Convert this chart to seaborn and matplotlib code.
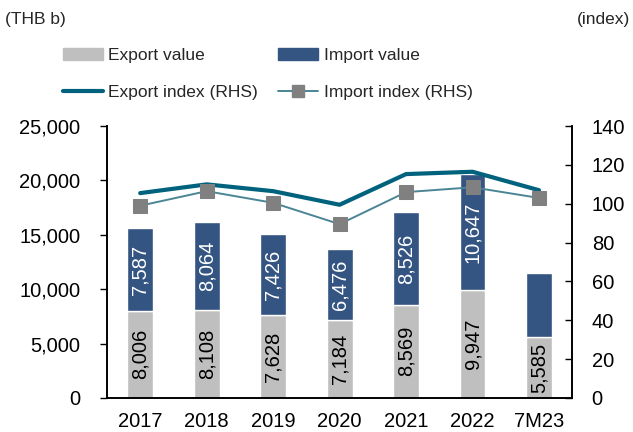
import numpy as np
import pandas as pd
import matplotlib.pyplot as plt
import seaborn as sns
from matplotlib.patches import Patch
from matplotlib.lines import Line2D

# --- Data ---
years = ['2017', '2018', '2019', '2020', '2021', '2022', '7M23']
export_value = [8006, 8108, 7628, 7184, 8569, 9947, 5585]
import_value = [7587, 8064, 7426, 6476, 8526, 10647, 5875]
import_labels = ['7,587', '8,064', '7,426', '6,476', '8,526', '10,647', '']
export_labels = ['8,006', '8,108', '7,628', '7,184', '8,569', '9,947', '5,585']
export_index = [105.5, 110, 106.5, 99.5, 115.3, 116.5, 107]
import_index = [99, 106.5, 100.5, 89.5, 106, 108.5, 103]

# --- Style ---
sns.set_style("white")
plt.rcParams['font.family'] = ['Liberation Sans', 'DejaVu Sans']
plt.rcParams['font.size'] = 14.5
small = 12.5

c_exp = '#BFBFBF'
c_imp = '#345482'
c_exp_line = '#00627D'
c_imp_line = '#4A8596'

df = pd.DataFrame({'year': years, 'export': export_value, 'import': import_value})
x = np.arange(len(years))

fig = plt.figure(figsize=(6.33, 4.32), dpi=100)
ax = fig.add_axes([0.169, 0.079, 0.735, 0.629])

# stacked bars
sns.barplot(data=df, x='year', y='export', color=c_exp, width=0.39,
            saturation=1, ax=ax)
sns.barplot(data=df, x='year', y='import', bottom=df['export'], color=c_imp,
            width=0.39, saturation=1, ax=ax)

for i in range(len(years)):
    ax.text(x[i], export_value[i] / 2, export_labels[i], rotation=90,
            ha='center', va='center', color='black', fontsize=14.5)
    if import_labels[i]:
        ax.text(x[i], export_value[i] + import_value[i] / 2, import_labels[i],
                rotation=90, ha='center', va='center', color='white', fontsize=14.5)

ax.set_ylim(0, 25000)
ax.set_yticks(range(0, 25001, 5000))
ax.set_yticklabels([f'{v:,}' for v in range(0, 25001, 5000)])
ax.set_xlim(-0.5, len(years) - 0.5)
ax.set_xlabel('')
ax.set_ylabel('')
ax.set_xticks(x)
ax.set_xticklabels(years)
ax.set_xticks(np.arange(-0.5, len(years), 1), minor=True)
ax.tick_params(axis='x', which='major', length=0, pad=10)
ax.tick_params(axis='x', which='minor', length=5, direction='out', width=1)
ax.tick_params(axis='y', length=5, direction='out', width=1, pad=14)

# right axis
ax2 = ax.twinx()
sns.lineplot(x=x, y=export_index, color=c_exp_line, linewidth=3.0, ax=ax2)
sns.lineplot(x=x, y=import_index, color=c_imp_line, linewidth=1.4, marker='s',
             markersize=10.5, markerfacecolor='#808080', markeredgecolor='#808080', ax=ax2)
ax2.set_ylim(0, 140)
ax2.set_yticks(range(0, 141, 20))
ax2.tick_params(axis='y', length=5, direction='in', width=1, pad=14)
ax2.set_xlim(-0.5, len(years) - 0.5)

for a in (ax, ax2):
    for s in a.spines.values():
        s.set_color('black')
        s.set_linewidth(1.2)
    a.spines['top'].set_visible(False)
    a.tick_params(colors='black')

fig.text(0.008, 0.954, '(THB b)', ha='left', va='center', fontsize=small)
fig.text(0.995, 0.954, '(index)', ha='right', va='center', fontsize=small)

handles = [
    Patch(color=c_exp, label='Export value'),
    Line2D([], [], color=c_exp_line, linewidth=3.0, label='Export index (RHS)'),
    Patch(color=c_imp, label='Import value'),
    Line2D([], [], color=c_imp_line, linewidth=1.4, marker='s', markersize=9,
           markerfacecolor='#808080', markeredgecolor='#808080', label='Import index (RHS)'),
]
fig.legend(handles=handles, ncol=2, loc='upper left', bbox_to_anchor=(0.088, 0.905),
           frameon=False, handlelength=2.3, handleheight=0.7, handletextpad=0.3,
           columnspacing=1.2, labelspacing=1.25, fontsize=small, borderaxespad=0)

fig.savefig('out.png', dpi=100)
